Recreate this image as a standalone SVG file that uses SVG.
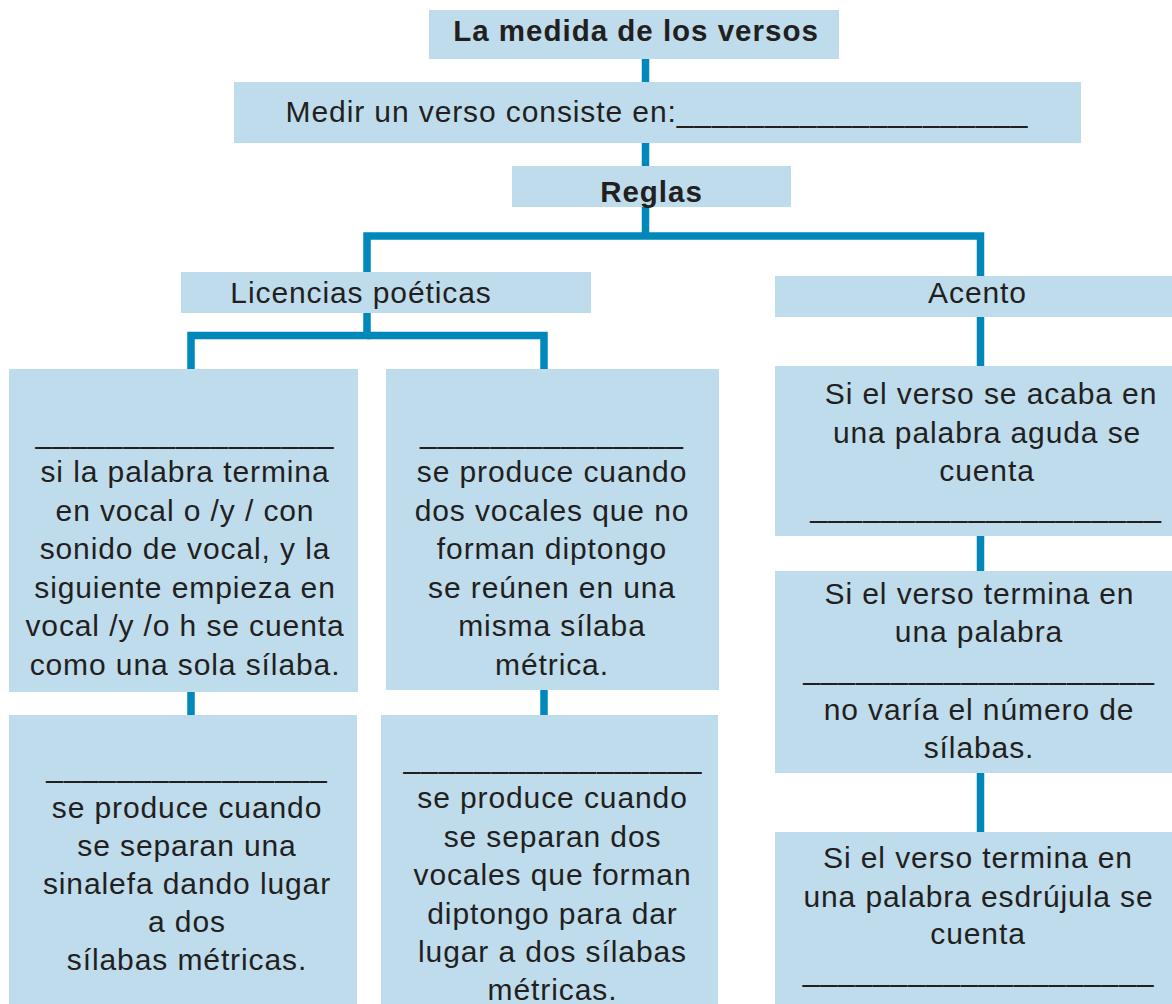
<svg xmlns="http://www.w3.org/2000/svg" width="1172" height="1004" viewBox="0 0 1172 1004">
<style>
.box{fill:#bedcec}
.t{font-family:"Liberation Sans",Arial,sans-serif;font-size:30px;fill:#231f20;text-anchor:middle;letter-spacing:0.9px}
.b{font-weight:bold;font-size:29.5px;letter-spacing:1px}
.c{fill:none;stroke:#0088bb;stroke-width:7.5}
</style>
<rect width="1172" height="1004" fill="#ffffff"/>
<g id="connectors">
<path class="c" d="M645.5,59 V236"/>
<path class="c" d="M367,272 V236 H980.5 V832"/>
<path class="c" d="M367,313 V335.5 H191 V715"/>
<path class="c" d="M367,335.5 H544 V715"/>
</g>
<g id="title">
<rect class="box" x="429" y="10" width="410" height="49"/>
<text class="t b" x="636" y="41">La medida de los versos</text>
</g>
<g id="medir">
<rect class="box" x="234" y="82" width="847" height="61"/>
<text class="t" x="657" y="122">Medir un verso consiste en:____________________</text>
</g>
<g id="reglas">
<rect class="box" x="512" y="166" width="279" height="41"/>
<text class="t b" x="651.5" y="202">Reglas</text>
</g>
<g id="licencias">
<rect class="box" x="181" y="272" width="410" height="41"/>
<text class="t" x="361" y="303">Licencias poéticas</text>
</g>
<g id="acento">
<rect class="box" x="775" y="276" width="397" height="41"/>
<text class="t" x="977.5" y="303">Acento</text>
</g>
<g id="sinalefa">
<rect class="box" x="9" y="369" width="349" height="323"/>
<text class="t" x="185" y="443">_________________</text>
<text class="t" x="185" y="482">si la palabra termina</text>
<text class="t" x="185" y="520.5">en vocal o /y / con</text>
<text class="t" x="185" y="559">sonido de vocal, y la</text>
<text class="t" x="185" y="597.5">siguiente empieza en</text>
<text class="t" x="185" y="636">vocal /y /o h se cuenta</text>
<text class="t" x="185" y="674.5">como una sola sílaba.</text>
</g>
<g id="sineresis">
<rect class="box" x="386" y="369" width="333" height="321"/>
<text class="t" x="552" y="443">_______________</text>
<text class="t" x="552" y="482">se produce cuando</text>
<text class="t" x="552" y="520.5">dos vocales que no</text>
<text class="t" x="552" y="559">forman diptongo</text>
<text class="t" x="552" y="597.5">se reúnen en una</text>
<text class="t" x="552" y="636">misma sílaba</text>
<text class="t" x="552" y="674.5">métrica.</text>
</g>
<g id="hiato">
<rect class="box" x="9" y="715" width="348" height="289"/>
<text class="t" x="187" y="777">________________</text>
<text class="t" x="187" y="818">se produce cuando</text>
<text class="t" x="187" y="856">se separan una</text>
<text class="t" x="187" y="894">sinalefa dando lugar</text>
<text class="t" x="187" y="932">a dos</text>
<text class="t" x="187" y="970">sílabas métricas.</text>
</g>
<g id="dieresis">
<rect class="box" x="381" y="715" width="337" height="289"/>
<text class="t" x="553" y="768">_________________</text>
<text class="t" x="552.5" y="808">se produce cuando</text>
<text class="t" x="552.5" y="846.5">se separan dos</text>
<text class="t" x="552.5" y="885">vocales que forman</text>
<text class="t" x="552.5" y="923.5">diptongo para dar</text>
<text class="t" x="552.5" y="962">lugar a dos sílabas</text>
<text class="t" x="552.5" y="1000">métricas.</text>
</g>
<g id="aguda">
<rect class="box" x="775" y="366" width="397" height="170"/>
<text class="t" x="991" y="404">Si el verso se acaba en</text>
<text class="t" x="987" y="443">una palabra aguda se</text>
<text class="t" x="987" y="481">cuenta</text>
<text class="t" x="986" y="517">____________________</text>
</g>
<g id="llana">
<rect class="box" x="775" y="571" width="397" height="202"/>
<text class="t" x="979.5" y="604">Si el verso termina en</text>
<text class="t" x="979" y="642">una palabra</text>
<text class="t" x="979" y="679">____________________</text>
<text class="t" x="979" y="720">no varía el número de</text>
<text class="t" x="979" y="758">sílabas.</text>
</g>
<g id="esdrujula">
<rect class="box" x="775" y="832" width="397" height="172"/>
<text class="t" x="978" y="868">Si el verso termina en</text>
<text class="t" x="978.5" y="907">una palabra esdrújula se</text>
<text class="t" x="978" y="944">cuenta</text>
<text class="t" x="978.5" y="981">____________________</text>
</g>
</svg>
